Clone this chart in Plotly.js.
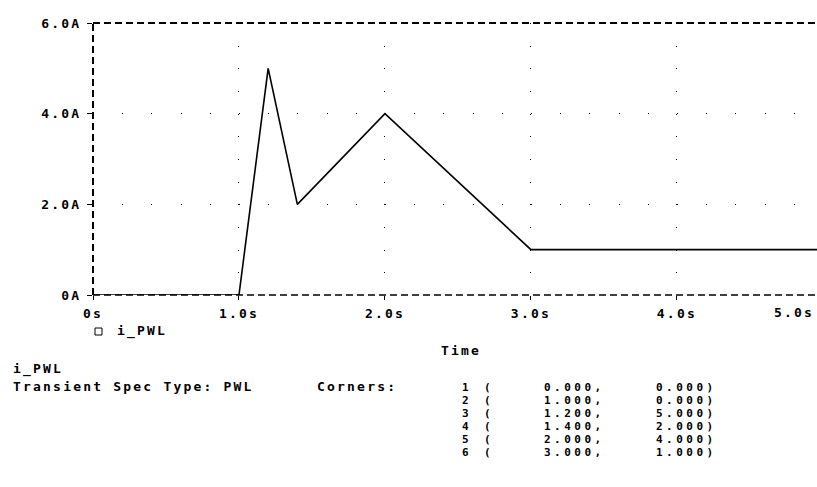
<!DOCTYPE html>
<html>
<head>
<meta charset="utf-8">
<script src="https://cdn.plot.ly/plotly-3.0.1.min.js"></script>
<style>
  html, body { margin: 0; padding: 0; background: #fff; }
  svg text { letter-spacing: 2.2px; }
</style>
</head>
<body>
<div id="chart" style="width:817px;height:487px;"></div>
<script>
// ---- data ----
const timeS = [0, 1.0, 1.2, 1.4, 2.0, 3.0, 5.0];        // seconds
const currentA = [0, 0, 5.0, 2.0, 4.0, 1.0, 1.0];       // amps
const cornerCount = 6;                                  // PWL corners listed in the table
const xTickVals = [0, 1, 2, 3, 4, 5];
const xTickText = ['0s', '1.0s', '2.0s', '3.0s', '4.0s', '5.0s'];
const yTickVals = [0, 2, 4, 6];
const yTickText = ['0A', '2.0A', '4.0A', '6.0A'];
const seriesName = 'i_PWL';

// ---- layout geometry ----
const W = 817, H = 487;
const L = 93, R = 0, T = 23, B = 192;
const pw = W - L - R, ph = H - T - B;
const px = v => (v - L) / pw;        // pixel x -> paper x
const py = v => (T + ph - v) / ph;   // pixel y -> paper y

const FAMILY = 'DejaVu Sans Mono, Liberation Mono, monospace';
const FONT = { family: FAMILY, size: 13, color: '#000', weight: 'bold' };
const TFONT = { family: FAMILY, size: 11, color: '#000', weight: 'bold' };

const trace = {
  x: timeS, y: currentA, type: 'scatter', mode: 'lines',
  name: seriesName, line: { color: '#000', width: 1.6 },
  hoverinfo: 'skip', showlegend: false
};

const ann = [];
function txt(text, x, y, anchor, font) {
  ann.push({ text: text, xref: 'paper', yref: 'paper', x: px(x), y: py(y),
    xanchor: anchor || 'left', yanchor: 'middle', showarrow: false, font: font || FONT });
}
const wide = s => '<span style="letter-spacing:3.5px">' + s + '</span>';
// the last x tick label sits at the clipped right edge
txt(xTickText[5], 816, 312, 'right');
// legend text
txt(seriesName, 115, 331);
// x axis title
txt('Time', 461, 350, 'center');
// description block
txt(seriesName, 11, 369);
txt('Transient Spec Type: PWL', 11, 386);
txt('Corners:', 315, 386);
for (let i = 0; i < cornerCount; i++) {
  const y = 387 + i * 13.1;
  txt(wide(String(i + 1)), 474, y, 'right', TFONT);
  txt(wide('('), 482, y, 'left', TFONT);
  txt(wide(timeS[i].toFixed(3) + ','), 607, y, 'right', TFONT);
  txt(wide(currentA[i].toFixed(3) + ')'), 719, y, 'right', TFONT);
}

const dashed = { color: '#000', width: 2, dash: '7px,4px' };
const shapes = [
  { type: 'line', xref: 'paper', yref: 'paper', x0: 0, x1: 0, y0: 0, y1: 1, line: dashed },
  { type: 'line', xref: 'paper', yref: 'paper', x0: 0, x1: 1, y0: 1, y1: 1, line: dashed },
  { type: 'line', xref: 'paper', yref: 'paper', x0: 0, x1: 1, y0: 0, y1: 0, line: { color: '#000', width: 1.5, dash: '7px,4px' } },
  // legend symbol
  { type: 'rect', xref: 'paper', yref: 'paper', x0: px(95), x1: px(102), y0: py(335), y1: py(328),
    line: { color: '#000', width: 1 }, fillcolor: '#fff' }
];

const layout = {
  width: W, height: H,
  margin: { l: L, r: R, t: T, b: B, pad: 0 },
  paper_bgcolor: '#fff', plot_bgcolor: '#fff',
  showlegend: false,
  font: FONT,
  xaxis: {
    range: [0, 4.96], tickvals: xTickVals, ticktext: xTickText,
    ticks: 'outside', ticklen: 4, tickwidth: 1, tickcolor: '#000',
    showline: false, zeroline: false,
    showgrid: true, gridcolor: '#000', gridwidth: 1, griddash: '1px,21.67px',
    tickfont: FONT, ticklabelstandoff: 2, fixedrange: true
  },
  yaxis: {
    range: [0, 6], tickvals: yTickVals, ticktext: yTickText,
    ticks: 'outside', ticklen: 5, tickwidth: 1, tickcolor: '#000',
    showline: false, zeroline: false,
    showgrid: true, gridcolor: '#000', gridwidth: 1, griddash: '1px,28.2px',
    tickfont: FONT, ticklabelstandoff: 3, fixedrange: true
  },
  shapes: shapes,
  annotations: ann
};

Plotly.newPlot('chart', [trace], layout, { staticPlot: true, displayModeBar: false });
</script>
</body>
</html>
